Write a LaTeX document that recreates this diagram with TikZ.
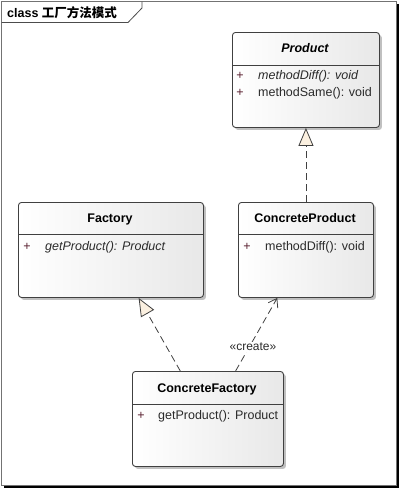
\documentclass[tikz,border=0pt]{standalone}
\usepackage{fontspec}
\setmainfont{Liberation Sans}
\newfontfamily\cjkfont{Noto Sans CJK SC}
\usetikzlibrary{arrows.meta,shadows,calc}
\definecolor{linegray}{HTML}{404040}
\definecolor{textcol}{HTML}{2A2A2A}
\definecolor{pluscol}{HTML}{5A2030}
\definecolor{tribeige}{HTML}{FBF0E0}
\tikzset{
  classbox/.style={draw=linegray, line width=0.9pt, rounded corners=3pt, anchor=north west,
    left color=white, right color=black!9, shading angle=90,
    drop shadow={shadow xshift=2.5pt, shadow yshift=-2.5pt, fill=black!35, opacity=0.7}},
  ctitle/.style={font=\fontsize{12.5}{14}\selectfont\bfseries, text=black, inner sep=0pt, text height=9pt, text depth=2.5pt},
  cmember/.style={font=\fontsize{12.5}{14}\selectfont, text=textcol, inner sep=0pt, anchor=west, text height=9pt, text depth=2.5pt},
  cplus/.style={font=\fontsize{12.5}{14}\selectfont, text=pluscol, inner sep=0pt, text height=9pt, text depth=2.5pt},
  divider/.style={draw=linegray, line width=0.9pt},
  realize/.style={draw=linegray, line width=0.8pt, dash pattern=on 7pt off 4pt,
    -{Triangle[length=18pt, width=15pt, fill=tribeige, line width=0.8pt]}},
  depend/.style={draw=linegray, line width=0.8pt, dash pattern=on 7pt off 4pt,
    -{Straight Barb[length=8pt, width=11pt, line width=0.8pt]}}
}
\begin{document}
\begin{tikzpicture}[x=1pt, y=-1pt]
\useasboundingbox (0,0) rectangle (400,488);
% frame with dark shadow
\fill[black] (4,4) rectangle (399,487.5);
\fill[white] (1.5,1.5) rectangle (396,485);
\draw[draw=black!55, line width=0.8pt] (1.5,1.5) rectangle (396,485);
% tab
\draw[draw=black!70, line width=0.8pt] (1.5,22.5) -- (128,22.5) -- (142,8) -- (142,1.5);
\node[anchor=west, inner sep=0pt, font=\fontsize{12.5}{14}\selectfont\bfseries] (frametitle) at (7,13) {class {\cjkfont\bfseries 工厂方法模式}};

% Product
\node[classbox, minimum width=147pt, minimum height=95pt] (product) at (232,32) {};
\draw[divider] (product.west |- 0,65) -- (product.east |- 0,65);
\node[ctitle, font=\fontsize{12.5}{14}\selectfont\bfseries\itshape] (productT) at (305,49) {Product};
\node[cplus] (productP1) at (240,76) {+};
\node[cmember, font=\fontsize{12.5}{14}\selectfont\itshape] (productM1) at (258,76) {methodDiff(): void};
\node[cplus] (productP2) at (240,93) {+};
\node[cmember] (productM2) at (258,93) {methodSame(): void};

% Factory
\node[classbox, minimum width=185pt, minimum height=95pt] (factory) at (18,202) {};
\draw[divider] (factory.west |- 0,234) -- (factory.east |- 0,234);
\node[ctitle] (factoryT) at (110,219) {Factory};
\node[cplus] (factoryP1) at (27,247) {+};
\node[cmember, font=\fontsize{12.5}{14}\selectfont\itshape] (factoryM1) at (45,247) {getProduct(): Product};

% ConcreteProduct
\node[classbox, minimum width=135pt, minimum height=95pt] (cproduct) at (238,202) {};
\draw[divider] (cproduct.west |- 0,234) -- (cproduct.east |- 0,234);
\node[ctitle] (cproductT) at (305,219) {ConcreteProduct};
\node[cplus] (cproductP1) at (247,247) {+};
\node[cmember] (cproductM1) at (265,247) {methodDiff(): void};

% ConcreteFactory
\node[classbox, minimum width=151pt, minimum height=95pt] (cfactory) at (132,371) {};
\draw[divider] (cfactory.west |- 0,404) -- (cfactory.east |- 0,404);
\node[ctitle] (cfactoryT) at (207,389) {ConcreteFactory};
\node[cplus] (cfactoryP1) at (141,416) {+};
\node[cmember] (cfactoryM1) at (158,416) {getProduct(): Product};

% connectors
\draw[realize] (cproduct.north) -- (product.south);
\draw[realize] ($(cfactory.north west)!0.318!(cfactory.north east)$) -- ($(factory.south west)!0.649!(factory.south east)$);
\draw[depend] ($(cfactory.north west)!0.682!(cfactory.north east)$) -- ($(cproduct.south west)!0.289!(cproduct.south east)$);
\node[font=\fontsize{12}{14}\selectfont, text=textcol, fill=white, inner sep=1pt] (createL) at (253,347) {«create»};
\end{tikzpicture}
\end{document}
